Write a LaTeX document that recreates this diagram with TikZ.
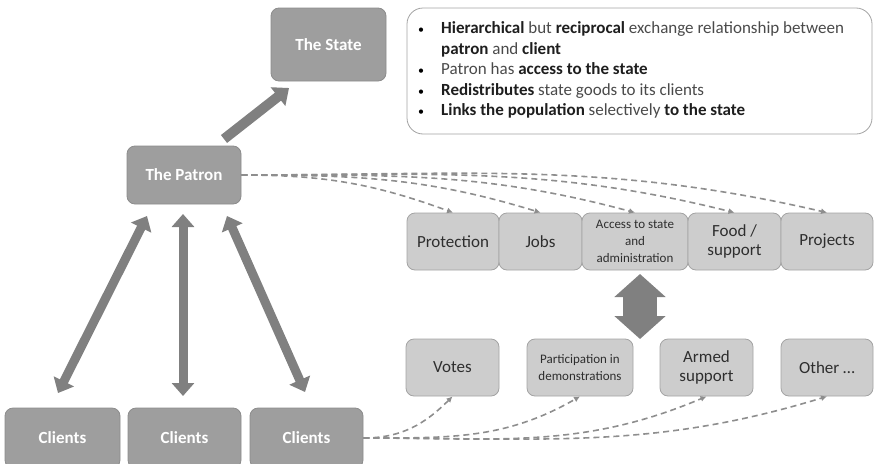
\documentclass[tikz,border=0pt]{standalone}
\usepackage{fontspec}
\setmainfont{Carlito}
\usetikzlibrary{arrows.meta}
\definecolor{dkfill}{HTML}{9E9E9E}
\definecolor{dkline}{HTML}{8C8C8C}
\definecolor{ltfill}{HTML}{CDCDCD}
\definecolor{ltline}{HTML}{A3A3A3}
\definecolor{arrowgray}{HTML}{808080}
\definecolor{dashgray}{HTML}{8E8E8E}
\definecolor{txtdark}{HTML}{1E1E1E}
\definecolor{txtmid}{HTML}{4A4A4A}
\definecolor{boxtxt}{HTML}{2E2E2E}
\newcommand{\mybul}{\textcolor{black}{{\fontsize{12}{12}\selectfont\textbullet}}}
\tikzset{
  darkbox/.style={draw=dkline, fill=dkfill, rounded corners=8pt, line width=0.8pt,
    text=white, font=\fontsize{17}{19}\selectfont\bfseries, align=center, inner sep=0pt},
  lightbox/.style={draw=ltline, fill=ltfill, rounded corners=8pt, line width=0.8pt,
    text=boxtxt, font=\fontsize{17}{19.5}\selectfont, align=center, inner sep=0pt},
  smalltxt/.style={font=\fontsize{13}{17}\selectfont},
  blockarrow/.style={draw=arrowgray, line width=10pt,
    -{Triangle[width=23pt,length=14pt]}},
  clientarrow/.style={draw=arrowgray, line width=9pt,
    {Triangle[width=22pt,length=13pt]}-{Triangle[width=22pt,length=13pt]}},
  dasharrow/.style={draw=dashgray, line width=1.6pt, dash pattern=on 6pt off 4pt,
    -{Latex[length=6pt,width=6pt]}}
}
\begin{document}
\begin{tikzpicture}[x=1pt,y=-1pt]
\useasboundingbox (0,0) rectangle (874,463);
\clip (0,0) rectangle (874,463);

% info box
\node[draw=ltline, fill=white, rounded corners=16pt, line width=0.8pt,
      minimum width=465pt, minimum height=126pt, inner sep=0pt] (info) at (639.5,71) {};
\node[anchor=north west, inner sep=0pt, align=left,
      font=\fontsize{17}{20.5}\selectfont, text=txtmid] (infotext) at (418,19)
{\renewcommand{\arraystretch}{1}%
\begin{tabular}{@{}p{17pt}@{\hspace{6pt}}l@{}}
\mybul & \textcolor{txtdark}{\textbf{Hierarchical}} but \textcolor{txtdark}{\textbf{reciprocal}} exchange relationship between\\
 & \textcolor{txtdark}{\textbf{patron}} and \textcolor{txtdark}{\textbf{client}}\\
\mybul & Patron has \textcolor{txtdark}{\textbf{access to the state}}\\
\mybul & \textcolor{txtdark}{\textbf{Redistributes}} state goods to its clients\\
\mybul & \textcolor{txtdark}{\textbf{Links the population}} selectively \textcolor{txtdark}{\textbf{to the state}}
\end{tabular}};

% dark nodes
\node[darkbox, minimum width=115pt, minimum height=73pt] (state) at (328.5,44.5) {The State};
\node[darkbox, minimum width=114pt, minimum height=58pt] (patron) at (184,175) {The Patron};
\node[darkbox, minimum width=115pt, minimum height=60pt] (c1) at (62.5,438) {Clients};
\node[darkbox, minimum width=113pt, minimum height=60pt] (c2) at (184.5,438) {Clients};
\node[darkbox, minimum width=113pt, minimum height=60pt] (c3) at (306.5,438) {Clients};

% upper light boxes
\node[lightbox, minimum width=92pt, minimum height=57pt] (prot) at (453,241.5) {Protection};
\node[lightbox, minimum width=83pt, minimum height=57pt] (jobs) at (540.5,241.5) {Jobs};
\node[lightbox, smalltxt, minimum width=106pt, minimum height=57pt] (access) at (635,241.5) {Access to state\\and\\administration};
\node[lightbox, minimum width=93pt, minimum height=57pt] (food) at (734.5,241.5) {Food /\\support};
\node[lightbox, minimum width=92pt, minimum height=57pt] (proj) at (827,241.5) {Projects};

% lower light boxes
\node[lightbox, minimum width=93pt, minimum height=57pt] (votes) at (452.5,367.5) {Votes};
\node[lightbox, smalltxt, minimum width=106pt, minimum height=57pt] (part) at (580,367.5) {Participation in\\demonstrations};
\node[lightbox, minimum width=93pt, minimum height=57pt] (armed) at (706.5,367.5) {Armed\\support};
\node[lightbox, minimum width=92pt, minimum height=57pt] (other) at (827,367.5) {Other \dots};

% block arrows
\coordinate (ps0) at (224,139);
\coordinate (ps1) at (289,88);
\draw[blockarrow] (ps0) -- (ps1);

\coordinate (l0) at (147,216);
\coordinate (l1) at (58,393);
\coordinate (m0) at (183,214);
\coordinate (m1) at (183,396);
\coordinate (r0) at (227,216);
\coordinate (r1) at (305,392);
\draw[clientarrow] (l0) -- (l1);
\draw[clientarrow] (m0) -- (m1);
\draw[clientarrow] (r0) -- (r1);

\coordinate (v0) at (640,274);
\coordinate (v1) at (640,339);
\draw[draw=arrowgray, line width=34pt,
  {Triangle[width=50pt,length=23pt]}-{Triangle[width=50pt,length=23pt]}] (v0) -- (v1);

% dashed connectors: patron to goods
\draw[dasharrow] (patron.east) to[out=0, in=160] (prot.north);
\draw[dasharrow] (patron.east) to[out=0, in=163] (jobs.north);
\draw[dasharrow] (patron.east) to[out=0, in=165] (access.north);
\draw[dasharrow] (patron.east) to[out=0, in=166] (food.north);
\draw[dasharrow] (patron.east) to[out=0, in=167] (proj.north);

% dashed connectors: clients to services
\draw[dasharrow] (c3.east) to[out=0, in=225] (votes.south);
\draw[dasharrow] (c3.east) to[out=0, in=210] (part.south);
\draw[dasharrow] (c3.east) to[out=0, in=203] (armed.south);
\draw[dasharrow] (c3.east) to[out=0, in=197] (other.south);
\end{tikzpicture}
\end{document}
